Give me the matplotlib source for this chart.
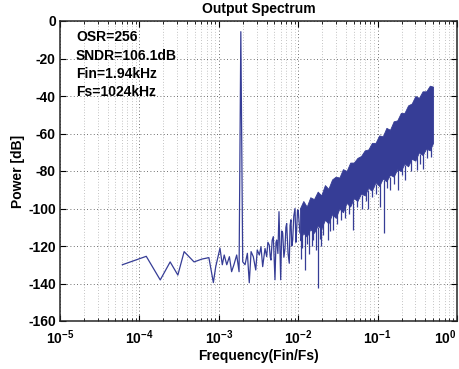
import matplotlib
matplotlib.use("Agg")
import matplotlib.pyplot as plt
from matplotlib.ticker import LogLocator, FixedLocator, NullFormatter

plt.rcParams['font.family'] = ['Liberation Sans', 'DejaVu Sans']
plt.rcParams['font.weight'] = 'bold'
plt.rcParams['font.size'] = 10
plt.rcParams['axes.titleweight'] = 'bold'
plt.rcParams['axes.labelweight'] = 'bold'
plt.rcParams['axes.unicode_minus'] = False

# ---- data ----
# sparse low-frequency bins, signal tone and transition region
line_freq = [6.1e-5, 1.22e-4, 1.83e-4, 2.44e-4, 3.05e-4, 3.66e-4, 4.88e-4, 6.1e-4,
             7.5e-4, 8.54e-4, 9.15e-4, 1.035e-3, 1.107e-3, 1.17e-3, 1.26e-3, 1.36e-3,
             1.45e-3, 1.55e-3, 1.68e-3, 1.80e-3, 1.894e-3, 2.0e-3, 2.14e-3, 2.29e-3,
             2.42e-3, 2.55e-3, 2.72e-3, 2.92e-3, 3.05e-3, 3.24e-3, 3.40e-3, 3.57e-3,
             3.82e-3, 4.01e-3, 4.15e-3, 4.32e-3, 4.45e-3, 4.54e-3, 4.70e-3, 4.86e-3,
             5.10e-3, 5.25e-3, 5.36e-3, 5.55e-3, 5.73e-3, 6.02e-3, 6.20e-3, 6.38e-3,
             6.60e-3, 6.82e-3, 7.0e-3, 7.16e-3, 7.45e-3, 7.72e-3, 7.9e-3, 8.11e-3,
             8.3e-3, 8.53e-3, 8.8e-3, 9.12e-3, 9.35e-3, 9.57e-3, 9.8e-3, 1.00e-2, 1.05e-2]
line_db = [-130, -125.5, -138.1, -128.5, -135.5, -123, -128.5, -127,
           -126.2, -139.5, -131, -121.2, -130, -124.8, -130, -125.7,
           -133.7, -130, -124.8, -133.7, -5.7, -128.4, -130, -123.9,
           -139.6, -123, -125.7, -132.8, -122.1, -124.8, -120.4, -131,
           -121.3, -125.7, -118, -119.5, -126, -127.5, -117, -115,
           -138, -118, -116.8, -124, -101.7, -138, -112, -113,
           -126, -121.3, -110, -108, -124, -129.2, -109, -106,
           -120, -116.8, -104, -100, -118, -111.5, -101, -100.8, -113]

# dense noise-shaped band: top and bottom of the filled region
band_freq = [0.0105, 0.0116, 0.0128, 0.0142, 0.0158, 0.0176, 0.0195, 0.0217, 0.024,
             0.0267, 0.0297, 0.033, 0.0366, 0.0407, 0.0452, 0.0502, 0.0557, 0.0619,
             0.0688, 0.0764, 0.0848, 0.0942, 0.1046, 0.1162, 0.129, 0.1433, 0.1592,
             0.1768, 0.1963, 0.218, 0.2421, 0.269, 0.2987, 0.3318, 0.3685, 0.4093,
             0.4546, 0.5]
band_top = [-100, -96, -99, -94, -95, -91, -93, -87.5, -89.5,
            -84.5, -83, -83.5, -79, -80, -75.5, -75.5, -73, -72,
            -69, -68.5, -65, -65, -61, -61.5, -57, -58, -53.5,
            -53, -49, -49, -45, -44, -40, -41, -37.5, -37.5,
            -34.5, -35]
band_bottom = [-117, -113, -115, -111, -113, -109, -111, -106, -108,
               -103, -105, -100, -102, -97, -99, -94.5, -96, -92,
               -93, -89, -90.5, -86, -88, -84, -85.5, -82, -83,
               -79, -80, -76, -77.5, -73.5, -74.5, -70, -71.5, -68,
               -69, -65]

# deep downward spikes below the band
dip_freq = [0.0108, 0.0112, 0.01218, 0.0129, 0.0135, 0.0148, 0.0155, 0.0166, 0.0176,
            0.0186, 0.0196, 0.0208, 0.0234, 0.0252, 0.0277, 0.0305, 0.0351, 0.039,
            0.0435, 0.0494, 0.055, 0.0629, 0.0705, 0.0757, 0.085, 0.095, 0.106,
            0.121, 0.133, 0.143, 0.16, 0.181, 0.2, 0.222, 0.26, 0.31, 0.345, 0.377,
            0.42, 0.475]
dip_from = [-114, -113, -113, -112, -112, -111, -110, -110, -110,
            -109, -109, -108, -106, -105, -103, -102, -100, -98,
            -97, -96, -94, -93, -91, -90, -88, -87, -86,
            -85, -84, -83, -81, -79, -78, -77, -74, -72, -71, -70,
            -68, -67]
dip_to = [-127, -121, -132.8, -119, -124, -120, -117, -122, -142.6,
          -116, -120, -114, -116.8, -112, -111.5, -108, -106, -105,
          -103, -111.5, -99, -100, -96, -100, -94, -92, -99,
          -113, -89, -90, -87, -90, -82, -85, -80, -79.5, -76, -79,
          -73, -72.4]

annotations = ["OSR=256", "SNDR=106.1dB", "Fin=1.94kHz", "Fs=1024kHz"]
y_ticks = [0, -20, -40, -60, -80, -100, -120, -140, -160]

color = '#363d96'
W, H = 460, 369

fig = plt.figure(figsize=(W / 100, H / 100), dpi=100)
ax = fig.add_axes([60 / W, 1 - 321 / H, 397 / W, 300 / H])

ax.fill_between(band_freq, band_bottom, band_top, color=color, lw=0.6, edgecolor=color)
ax.plot(line_freq, line_db, color=color, lw=0.9)
ax.vlines(dip_freq, dip_to, dip_from, color=color, lw=0.9)

ax.set_xscale('log')
ax.set_xlim(1e-5, 1)
ax.set_ylim(-160, 0)
ax.xaxis.set_major_locator(LogLocator(base=10, numticks=10))
ax.xaxis.set_minor_locator(LogLocator(base=10, subs=range(2, 10), numticks=20))
ax.xaxis.set_minor_formatter(NullFormatter())
ax.yaxis.set_major_locator(FixedLocator(y_ticks))

ax.grid(True, which='major', axis='both', color='0.25', linestyle=(0, (1, 3)), lw=0.6)
ax.grid(True, which='minor', axis='x', color='0.55', linestyle=(0, (1, 3)), lw=0.5)
ax.set_axisbelow(True)

ax.tick_params(which='major', direction='in', length=4, width=0.8, top=True, right=True,
               labelsize=10, pad=3)
ax.tick_params(axis='x', which='major', pad=5.5)
ax.tick_params(which='minor', direction='in', length=2, width=0.6, top=True, right=True)
for s in ax.spines.values():
    s.set_linewidth(1.1)
    s.set_color('0.15')

ax.set_title("Output Spectrum", fontsize=10, fontweight='bold', pad=6)
ax.set_xlabel("Frequency(Fin/Fs)", fontsize=10, fontweight='bold', labelpad=1)
ax.set_ylabel("Power [dB]", fontsize=10, fontweight='bold', labelpad=2)

for i, t in enumerate(annotations):
    fig.text(76 / W, 1 - (37 + 18.5 * i) / H, t, fontsize=10, fontweight='bold',
             va='center', ha='left')

fig.canvas.draw()
for lab in ax.get_xticklabels():
    x, _ = lab.get_position()
    if abs(x - 1.0) < 1e-9:
        lab.set_horizontalalignment('right')

fig.savefig("out.png", dpi=100)
